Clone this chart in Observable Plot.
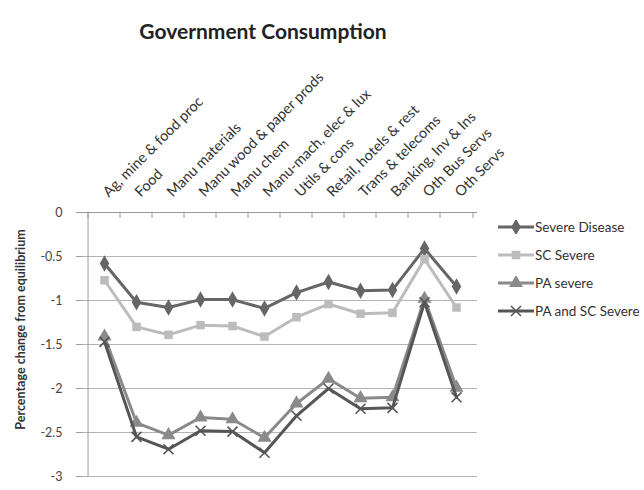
<!DOCTYPE html>
<html>
<head>
<meta charset="utf-8">
<script src="https://cdn.jsdelivr.net/npm/d3@7"></script>
<script src="https://cdn.jsdelivr.net/npm/@observablehq/plot@0.6"></script>
<style>
  body { margin: 0; background: #fff; font-family: Lato, "Open Sans", sans-serif; }
  #chart { position: relative; width: 644px; height: 490px; overflow: hidden; }
  #title { position: absolute; left: 0; top: 18px; width: 526px; text-align: center;
           font: bold 21px Lato, sans-serif; color: #222; }
  #plot { position: absolute; left: 0; top: 60px; }
  #legend { position: absolute; left: 497px; top: 213px; }
  .row { display: flex; align-items: center; height: 28px; font-size: 13.5px; color: #333; }
</style>
</head>
<body>
<div id="chart">
  <div id="title">Government Consumption</div>
  <div id="plot"></div>
  <div id="legend"></div>
</div>
<script>
// Sectors along the category axis
const categories = [
  "Ag, mine & food proc", "Food", "Manu materials", "Manu wood & paper prods",
  "Manu chem", "Manu-mach, elec & lux", "Utils & cons", "Retail, hotels & rest",
  "Trans & telecoms", "Banking, Inv & Ins", "Oth Bus Servs", "Oth Servs"
];

// Percentage change from equilibrium, one array per scenario
const severeDisease = [-0.58, -1.02, -1.08, -0.99, -0.99, -1.09, -0.91, -0.79, -0.89, -0.88, -0.41, -0.84];
const scSevere      = [-0.77, -1.30, -1.39, -1.28, -1.29, -1.41, -1.19, -1.04, -1.15, -1.14, -0.53, -1.08];
const paSevere      = [-1.41, -2.39, -2.53, -2.33, -2.35, -2.56, -2.17, -1.89, -2.11, -2.10, -0.98, -1.99];
const paScSevere    = [-1.47, -2.55, -2.69, -2.48, -2.49, -2.73, -2.31, -2.00, -2.23, -2.22, -1.02, -2.10];

const seriesNames = ["Severe Disease", "SC Severe", "PA severe", "PA and SC Severe"];
const seriesValues = [severeDisease, scSevere, paSevere, paScSevere];
const seriesColors = ["#666666", "#bcbcbc", "#8a8a8a", "#565656"];
const seriesSymbols = ["diamond", "square", "triangle", "times"];
const seriesSizes = [5, 4.8, 5.2, 4.6];

const yTicks = [0, -0.5, -1, -1.5, -2, -2.5, -3];
const yTitle = "Percentage change from equilibrium";

const width = 644, height = 430;
const marginLeft = 82, marginRight = 167, marginTop = 152, marginBottom = 14;
const step = (width - marginLeft - marginRight) / categories.length;

const marks = [
  // horizontal gridlines
  Plot.ruleY(yTicks.filter(d => d !== 0), {stroke: "#b4b4b4", strokeWidth: 1}),
  // category axis line at zero
  Plot.ruleY([0], {stroke: "#9a9a9a", strokeWidth: 1}),
  // category boundary ticks hanging below the zero line
  Plot.ruleX(categories, {x: d => d, y1: 0, y2: 0, dx: -step / 2, insetBottom: -6, stroke: "#9a9a9a"}),
  Plot.ruleX(categories.slice(-1), {x: d => d, y1: 0, y2: 0, dx: step / 2, insetBottom: -6, stroke: "#9a9a9a"}),
  // value axis line
  Plot.ruleX(categories.slice(0, 1), {x: d => d, y1: 0, y2: -3, dx: -step / 2, stroke: "#9a9a9a"}),
  // value axis ticks and labels
  Plot.axisY({ticks: yTicks, tickFormat: d => String(d), tickSize: 6, tickPadding: 14,
              stroke: "#9a9a9a", fill: "#444", fontSize: 12.5, label: null}),
  // slanted category labels
  Plot.text(categories, {x: d => d, frameAnchor: "top", rotate: -45, textAnchor: "start",
                         dx: -3, dy: -22, fontSize: 14.5, fill: "#333"}),
  // value axis title
  Plot.text([yTitle], {frameAnchor: "left", textAnchor: "middle", rotate: -90, dx: -62, dy: -15,
                       fontWeight: "bold", fontSize: 12.5, fill: "#333"})
];

seriesNames.forEach((name, s) => {
  const data = categories.map((c, i) => ({category: c, value: seriesValues[s][i]}));
  marks.push(Plot.line(data, {x: "category", y: "value", stroke: seriesColors[s], strokeWidth: 3}));
  const stroked = seriesSymbols[s] === "times";
  marks.push(Plot.dot(data, {
    x: "category", y: "value", symbol: () => seriesSymbols[s], r: seriesSizes[s],
    fill: stroked ? "none" : seriesColors[s], stroke: stroked ? seriesColors[s] : "none",
    strokeWidth: stroked ? 1.6 : 0
  }));
});

const chart = Plot.plot({
  width, height, marginLeft, marginRight, marginTop, marginBottom,
  style: {fontFamily: "Lato, 'Open Sans', sans-serif", background: "white"},
  x: {type: "point", domain: categories, padding: 0.5, axis: null},
  y: {domain: [-3, 0], axis: null},
  symbol: {type: "identity"},
  marks
});
document.getElementById("plot").append(chart);

// legend: line swatch with marker, then series name
const legend = d3.select("#legend");
const symbolMap = {diamond: d3.symbolDiamond, square: d3.symbolSquare, triangle: d3.symbolTriangle, times: d3.symbolTimes};
seriesNames.forEach((name, s) => {
  const row = legend.append("div").attr("class", "row");
  const svg = row.append("svg").attr("width", 38).attr("height", 14);
  svg.append("line").attr("x1", 1).attr("x2", 37).attr("y1", 7).attr("y2", 7)
    .attr("stroke", seriesColors[s]).attr("stroke-width", 3);
  const area = Math.PI * seriesSizes[s] * seriesSizes[s];
  const stroked = seriesSymbols[s] === "times";
  svg.append("path").attr("transform", "translate(19,7)")
    .attr("d", d3.symbol(symbolMap[seriesSymbols[s]], area)())
    .attr("fill", stroked ? "none" : seriesColors[s])
    .attr("stroke", stroked ? seriesColors[s] : "none")
    .attr("stroke-width", stroked ? 1.6 : 0);
  row.append("span").text(name);
});
</script>
</body>
</html>
